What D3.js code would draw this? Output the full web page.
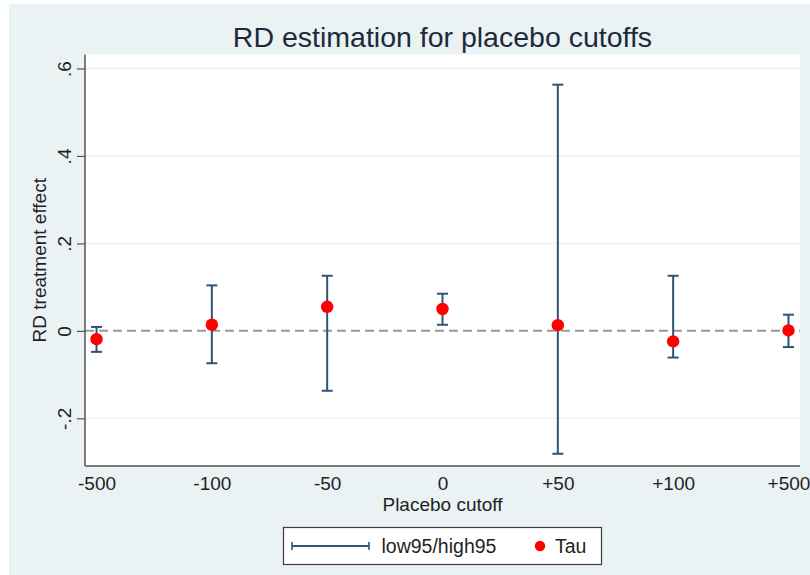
<!DOCTYPE html>
<html>
<head>
<meta charset="utf-8">
<script src="https://cdn.jsdelivr.net/npm/d3@7"></script>
<style>
  html, body { margin: 0; padding: 0; background: #ffffff; }
  svg { display: block; }
  text { font-family: "Liberation Sans", Arial, sans-serif; }
</style>
</head>
<body>
<svg id="chart" width="810" height="575"></svg>
<script>
// Placebo cutoffs and RD estimates with 95% confidence bounds
const cutoffs = ["-500", "-100", "-50", "0", "+50", "+100", "+500"];
const tau     = [-0.019, 0.014, 0.055, 0.050, 0.013, -0.024, 0.001];
const low95   = [-0.048, -0.074, -0.137, 0.014, -0.281, -0.061, -0.037];
const high95  = [0.009, 0.104, 0.126, 0.085, 0.563, 0.126, 0.037];
const yTicks  = [-0.2, 0, 0.2, 0.4, 0.6];
const yTickLabels = ["-.2", "0", ".2", ".4", ".6"];

const rows = cutoffs.map((c, i) => ({ c, tau: tau[i], lo: low95[i], hi: high95[i] }));

const svg = d3.select("#chart");
const W = 810, H = 575;
const plot = { left: 85, right: 800, top: 54.5, bottom: 466 };

const barColor = "#2f5476";
const dotColor = "#ff0000";
const textColor = "#1f1f1f";

// Graph region background
svg.append("rect")
  .attr("x", 9).attr("y", 4).attr("width", W - 9).attr("height", H - 4)
  .attr("fill", "#eaf2f3");

// Plot region
svg.append("rect")
  .attr("x", plot.left).attr("y", plot.top)
  .attr("width", plot.right - plot.left).attr("height", plot.bottom - plot.top)
  .attr("fill", "#ffffff");

const x = d3.scalePoint().domain(cutoffs).range([plot.left, plot.right]).padding(0.1);
const y = d3.scaleLinear().domain([-0.309, 0.632]).range([plot.bottom, plot.top]);

// Gridlines
svg.append("g")
  .selectAll("line")
  .data(yTicks.filter(v => v !== 0))
  .join("line")
  .attr("x1", plot.left).attr("x2", plot.right)
  .attr("y1", d => y(d)).attr("y2", d => y(d))
  .attr("stroke", "#eaf2f3").attr("stroke-width", 1.5);

// Reference line at zero
svg.append("line")
  .attr("x1", plot.left).attr("x2", plot.right)
  .attr("y1", y(0)).attr("y2", y(0))
  .attr("stroke", "#999999").attr("stroke-width", 2)
  .attr("stroke-dasharray", "9,5");

// Y axis
const yAxis = d3.axisLeft(y)
  .tickValues(yTicks)
  .tickFormat((d, i) => yTickLabels[i])
  .tickSize(8)
  .tickPadding(4);
const gy = svg.append("g").attr("transform", `translate(${plot.left},0)`).call(yAxis);
gy.select(".domain").attr("stroke", "#555555").attr("stroke-width", 1.5)
  .attr("d", `M0,${plot.top}V${plot.bottom}`);
gy.selectAll(".tick line").attr("stroke", "#555555").attr("stroke-width", 1.2);
gy.selectAll(".tick text")
  .attr("font-size", 19)
  .attr("fill", textColor)
  .attr("text-anchor", "middle")
  .attr("x", null).attr("dy", null)
  .attr("transform", "translate(-19,0) rotate(-90)")
  .attr("dominant-baseline", "middle");

// X axis
const xAxis = d3.axisBottom(x).tickSize(0).tickPadding(11);
const gx = svg.append("g").attr("transform", `translate(0,${plot.bottom})`).call(xAxis);
gx.select(".domain").attr("stroke", "#555555").attr("stroke-width", 1.5)
  .attr("d", `M${plot.left},0H${plot.right}`);
gx.selectAll(".tick text")
  .attr("font-size", 19)
  .attr("fill", textColor);

// Axis titles
svg.append("text")
  .attr("x", (plot.left + plot.right) / 2).attr("y", 511)
  .attr("text-anchor", "middle")
  .attr("font-size", 19).attr("fill", textColor)
  .text("Placebo cutoff");

svg.append("text")
  .attr("transform", `translate(46,${(plot.top + plot.bottom) / 2}) rotate(-90)`)
  .attr("text-anchor", "middle")
  .attr("font-size", 19).attr("fill", textColor)
  .text("RD treatment effect");

// Title
svg.append("text")
  .attr("x", (plot.left + plot.right) / 2).attr("y", 47)
  .attr("text-anchor", "middle")
  .attr("font-size", 28.5).attr("fill", "#1e2a3a")
  .text("RD estimation for placebo cutoffs");

// Confidence intervals
const capHalf = 5.5;
const bars = svg.append("g").attr("stroke", barColor).attr("stroke-width", 2).attr("fill", "none");
bars.selectAll("line.v").data(rows).join("line").attr("class", "v")
  .attr("x1", d => x(d.c)).attr("x2", d => x(d.c))
  .attr("y1", d => y(d.lo)).attr("y2", d => y(d.hi));
bars.selectAll("line.hi").data(rows).join("line").attr("class", "hi")
  .attr("x1", d => x(d.c) - capHalf).attr("x2", d => x(d.c) + capHalf)
  .attr("y1", d => y(d.hi)).attr("y2", d => y(d.hi));
bars.selectAll("line.lo").data(rows).join("line").attr("class", "lo")
  .attr("x1", d => x(d.c) - capHalf).attr("x2", d => x(d.c) + capHalf)
  .attr("y1", d => y(d.lo)).attr("y2", d => y(d.lo));

// Point estimates
svg.append("g").selectAll("circle").data(rows).join("circle")
  .attr("cx", d => x(d.c)).attr("cy", d => y(d.tau))
  .attr("r", 6.2).attr("fill", dotColor);

// Legend
const lg = svg.append("g");
lg.append("rect")
  .attr("x", 283.5).attr("y", 527.5).attr("width", 318).attr("height", 37)
  .attr("fill", "#ffffff").attr("stroke", "#3c3c3c").attr("stroke-width", 1.2);
const ly = 546;
lg.append("line").attr("x1", 292).attr("x2", 369).attr("y1", ly).attr("y2", ly)
  .attr("stroke", barColor).attr("stroke-width", 2);
[292, 369].forEach(px => lg.append("line")
  .attr("x1", px).attr("x2", px).attr("y1", ly - 4).attr("y2", ly + 4)
  .attr("stroke", barColor).attr("stroke-width", 1.6));
lg.append("text").attr("x", 381.5).attr("y", ly).attr("dominant-baseline", "central")
  .attr("font-size", 19.5).attr("fill", textColor).text("low95/high95");
lg.append("circle").attr("cx", 540).attr("cy", ly).attr("r", 5.2).attr("fill", dotColor);
lg.append("text").attr("x", 555).attr("y", ly).attr("dominant-baseline", "central")
  .attr("font-size", 19.5).attr("fill", textColor).text("Tau");
</script>
</body>
</html>
